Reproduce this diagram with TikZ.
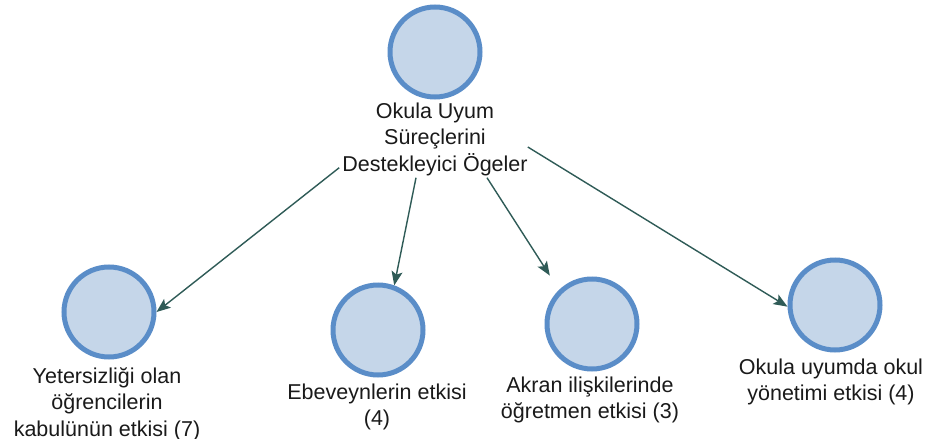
\documentclass[tikz,border=0pt]{standalone}
\usepackage{fontspec}
\setmainfont{Liberation Sans}
\usetikzlibrary{arrows.meta}
\definecolor{cfill}{HTML}{C5D6E9}
\definecolor{cline}{HTML}{5A8DC8}
\definecolor{arrc}{HTML}{2F5B57}
\definecolor{txt}{HTML}{1A1A1A}
\begin{document}
\begin{tikzpicture}[x=1pt,y=-1pt,
  circ/.style={circle, draw=cline, fill=cfill, line width=5pt, minimum size=90pt, inner sep=0pt},
  lab/.style={align=center, font=\fontsize{21.5}{26.5}\selectfont, text=txt, inner sep=0pt},
  arr/.style={draw=arrc, line width=1.4pt, -{Stealth[length=14pt,width=11pt,inset=3pt]}}]
\useasboundingbox[fill=white] (0,0) rectangle (932,439);

\node[circ] (c0) at (435,52) {};
\node[lab] (t0) at (435,139) {Okula Uyum\\Süreçlerini\\Destekleyici Ögeler};

\node[circ] (c1) at (109,312) {};
\node[lab] (t1) at (107,404) {Yetersizliği olan\\öğrencilerin\\kabulünün etkisi (7)};

\node[circ] (c2) at (378,330) {};
\node[lab] (t2) at (377,407) {Ebeveynlerin etkisi\\(4)};

\node[circ] (c3) at (592,324) {};
\node[lab] (t3) at (590,400) {Akran ilişkilerinde\\öğretmen etkisi (3)};

\node[circ] (c4) at (835,305) {};
\node[lab] (t4) at (831,382) {Okula uyumda okul\\yönetimi etkisi (4)};

\draw[arr] ([xshift=-3pt,yshift=8pt]t0.south west) -- (c1.east);
\draw[arr] ([xshift=-19pt,yshift=-2pt]t0.south) -- (c2.70);
\draw[arr, shorten >=17pt] ([xshift=52pt,yshift=-2pt]t0.south) -- (c3.134);
\draw[arr] ([yshift=-8pt]t0.east) -- (c4.182);
\end{tikzpicture}
\end{document}
